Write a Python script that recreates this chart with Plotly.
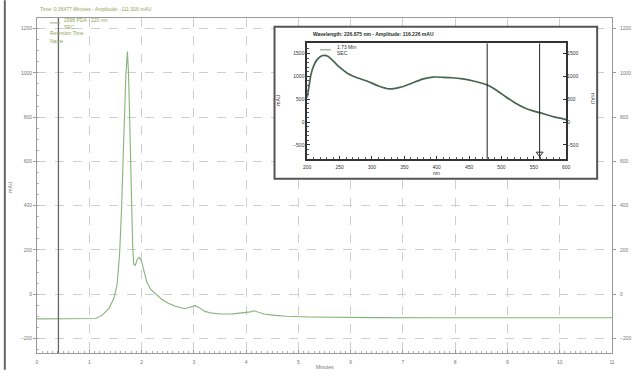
import plotly.graph_objects as go

# ---------------- data ----------------
# main chromatogram (minutes, mAU)
time_min = [0.00, 1.00, 1.12, 1.25, 1.38, 1.47, 1.53, 1.58, 1.62, 1.66, 1.70, 1.73, 1.75, 1.77,
            1.79, 1.81, 1.83, 1.85, 1.88, 1.92, 1.96, 2.00, 2.05, 2.10, 2.18, 2.26, 2.38, 2.51,
            2.65, 2.83, 2.95, 3.02, 3.10, 3.21, 3.35, 3.52, 3.75, 3.96, 4.08, 4.15, 4.25, 4.34,
            4.55, 4.78, 5.20, 5.80, 6.50, 7.50, 9.00, 11.00]
absorb_mau = [-112, -112, -110, -95, -63, -20, 40, 180, 400, 704, 990, 1096, 1000, 820,
              580, 378, 220, 135, 130, 158, 166, 148, 100, 55, 20, 3, -22, -41,
              -55, -66, -58, -52, -60, -78, -86, -90, -89, -85, -80, -75, -83, -90,
              -96, -100, -103, -105, -106, -107, -107, -107]

# inset UV spectrum at 1.73 min (nm, mAU)
wavelength_nm = [200, 203, 206, 210, 215, 220, 226, 232, 240, 250, 262, 277, 292, 310, 327,
                 343, 360, 378, 394, 410, 424, 440, 455, 470, 480, 493, 506, 520, 536, 550,
                 562, 580, 600]
spectrum_mau = [540, 800, 1050, 1230, 1360, 1430, 1460, 1440, 1340, 1200, 1070, 970, 900, 790, 725,
                760, 840, 940, 985, 980, 970, 945, 905, 850, 800, 690, 560, 430, 310, 240,
                195, 120, 56]

main_xticks = [0, 1, 2, 3, 4, 5, 6, 7, 8, 9, 10, 11]
main_yticks = [-200, 0, 200, 400, 600, 800, 1000, 1200]
inset_xticks = [200, 250, 300, 350, 400, 450, 500, 550, 600]
inset_yticks = [-500, 0, 500, 1000, 1500]
cursor_time = [0.41]
spectrum_cursors = [478, 559]

title_main = "Time: 0.36477 Minutes - Amplitude: -111.916 mAU"
title_inset = "Wavelength: 226.875 nm - Amplitude: 116.226 mAU"
legend_main = ["2998 PDA - 220 nm", "SEC", "Retention Time", "Name"]
legend_inset = ["1.73 Min", "SEC"]

# ---------------- layout helpers ----------------
W, H = 643, 377
L, R, T, B = 37, 25, 18, 17
PW, PH = W - L - R, H - T - B

main_xrange = [0, 11]
main_yrange = [-266, 1248]
inset_yrange = [-801, 1719]


def fx(px):
    return (px - L) / PW


def fy(py):
    return (H - B - py) / PH


def dx(px):
    return main_xrange[0] + fx(px) * (main_xrange[1] - main_xrange[0])


def dy(py):
    return main_yrange[0] + fy(py) * (main_yrange[1] - main_yrange[0])


FONT = "Liberation Sans"
TICKC = "#777777"
GREEN = "#86b47a"
OLIVE = "#93a55a"

fig = go.Figure()

# main trace
fig.add_trace(go.Scatter(x=time_min, y=absorb_mau, mode="lines",
                         line=dict(color=GREEN, width=1.1), showlegend=False,
                         xaxis="x", yaxis="y"))
# invisible copy for right-hand mirrored labels
fig.add_trace(go.Scatter(x=time_min, y=absorb_mau, mode="lines",
                         line=dict(color="rgba(0,0,0,0)", width=0), showlegend=False,
                         hoverinfo="skip", xaxis="x", yaxis="y3"))

# inset spectrum
fig.add_trace(go.Scatter(x=wavelength_nm, y=spectrum_mau, mode="lines",
                         line=dict(color="#46654f", width=1.7, shape="spline", smoothing=0.5),
                         showlegend=False, xaxis="x2", yaxis="y2"))
fig.add_trace(go.Scatter(x=wavelength_nm, y=spectrum_mau, mode="lines",
                         line=dict(color="rgba(0,0,0,0)", width=0), showlegend=False,
                         hoverinfo="skip", xaxis="x2", yaxis="y4"))
# arrow marker on second cursor
fig.add_trace(go.Scatter(x=[spectrum_cursors[1]], y=[-690], mode="markers",
                         marker=dict(symbol="triangle-down-open", size=6,
                                     color="#333333", line=dict(width=1)),
                         showlegend=False, xaxis="x2", yaxis="y2"))

fig.update_layout(
    width=W, height=H,
    margin=dict(l=L, r=R, t=T, b=B),
    paper_bgcolor="white", plot_bgcolor="white",
    font=dict(family=FONT, size=5, color=TICKC),
    xaxis=dict(range=main_xrange, tickvals=main_xticks, showgrid=True, gridcolor="#cfcfcf",
               griddash="dash", gridwidth=1, zeroline=False, showline=True, mirror=True,
               linecolor="#9a9a9a", linewidth=1, ticks="inside", ticklen=3,
               tickcolor="#9a9a9a", ticklabelstandoff=4,
               minor=dict(dtick=0.1, ticks="inside", ticklen=2, tickcolor="#b0b0b0"),
               tickfont=dict(size=5, color=TICKC), domain=[0, 1]),
    yaxis=dict(range=main_yrange, tickvals=main_yticks, showgrid=True, gridcolor="#cfcfcf",
               griddash="dash", gridwidth=1, zeroline=False, showline=True, mirror=True,
               linecolor="#9a9a9a", linewidth=1, ticks="outside", ticklen=3,
               tickcolor="#9a9a9a",
               minor=dict(dtick=50, ticks="inside", ticklen=2, tickcolor="#b0b0b0"),
               tickfont=dict(size=5, color=TICKC), domain=[0, 1]),
    yaxis3=dict(range=main_yrange, tickvals=main_yticks, overlaying="y", side="right",
                showgrid=False, zeroline=False, showline=False, ticks="outside", ticklen=3,
                tickcolor="#9a9a9a", ticklabelstandoff=3, tickfont=dict(size=5, color=TICKC)),
    xaxis2=dict(range=[200, 600], tickvals=inset_xticks, domain=[fx(310), fx(571.7)],
                anchor="y2", showgrid=False, zeroline=False, showline=True, mirror=True,
                linecolor="#333333", linewidth=1.5, ticks="inside", ticklen=3,
                tickcolor="#333333", ticklabelstandoff=2,
                minor=dict(dtick=10, ticks="inside", ticklen=2, tickcolor="#555555"),
                tickfont=dict(size=5, color="#333333")),
    yaxis2=dict(range=inset_yrange, tickvals=inset_yticks, domain=[fy(161.7), fy(44)],
                anchor="x2", showgrid=False, zeroline=False, showline=True, mirror=True,
                linecolor="#333333", linewidth=1.5, ticks="inside", ticklen=3,
                tickcolor="#333333",
                minor=dict(dtick=100, ticks="inside", ticklen=2, tickcolor="#555555"),
                tickfont=dict(size=5, color="#333333")),
    yaxis4=dict(range=inset_yrange, tickvals=inset_yticks, overlaying="y2", side="right",
                anchor="x2", showgrid=False, zeroline=False, showline=False, ticks="inside",
                ticklen=3, tickcolor="#333333", tickfont=dict(size=5, color="#333333")),
)

shapes = []
# inset white panel with frame (above main grid, below main traces)
shapes.append(dict(type="rect", xref="x", yref="y",
                   x0=dx(277), x1=dx(603), y0=dy(182), y1=dy(27),
                   fillcolor="white", line=dict(color="#555555", width=2), layer="between"))
# main cursor
for t in cursor_time:
    shapes.append(dict(type="line", xref="x", yref="paper", x0=t, x1=t, y0=0, y1=1,
                       line=dict(color="#666666", width=1.3), layer="above"))
# spectrum cursors
for w in spectrum_cursors:
    shapes.append(dict(type="line", xref="x2", yref="paper", x0=w, x1=w,
                       y0=fy(161.7), y1=fy(44),
                       line=dict(color="#222222", width=1), layer="above"))
# window edge at far left
shapes.append(dict(type="line", xref="paper", yref="paper", x0=fx(4.5), x1=fx(4.5),
                   y0=fy(0), y1=fy(377), line=dict(color="#666666", width=2)))
# legend line samples
shapes.append(dict(type="line", xref="paper", yref="paper", x0=fx(50), x1=fx(60),
                   y0=fy(23), y1=fy(23), line=dict(color=GREEN, width=1)))
shapes.append(dict(type="line", xref="paper", yref="paper", x0=fx(323), x1=fx(334),
                   y0=fy(50.5), y1=fy(50.5), line=dict(color="#6f9a6f", width=1)))
fig.update_layout(shapes=shapes)

ann = []


def text(px, py, s, size=5, color=TICKC, xanchor="left", angle=0, bold=False):
    ann.append(dict(x=fx(px), y=fy(py), xref="paper", yref="paper",
                    text=f"<b>{s}</b>" if bold else s, showarrow=False,
                    xanchor=xanchor, yanchor="middle", textangle=angle,
                    font=dict(family=FONT, size=size, color=color)))


text(38, 9, title_main, size=5, color=OLIVE)
text(62, 20.5, legend_main[0], color=OLIVE)
text(62, 27, legend_main[1], color=OLIVE)
text(48, 33.5, legend_main[2], color=OLIVE)
text(48, 41.5, legend_main[3], color=OLIVE)
text(328, 374.5, "Minutes", xanchor="center")
text(10, 190, "mAU", xanchor="center", angle=-90)

text(377, 34, title_inset, size=5, color="#1f2f1f", xanchor="center", bold=True)
text(338, 47.5, legend_inset[0], color="#333333")
text(338, 54, legend_inset[1], color="#333333")
text(441, 176.5, "nm", xanchor="center", color="#333333")
text(281, 101, "mAU", xanchor="center", angle=-90, color="#333333")
text(598, 101, "mAU", xanchor="center", angle=90, color="#333333")
fig.update_layout(annotations=ann)

fig.write_html("out.html")
